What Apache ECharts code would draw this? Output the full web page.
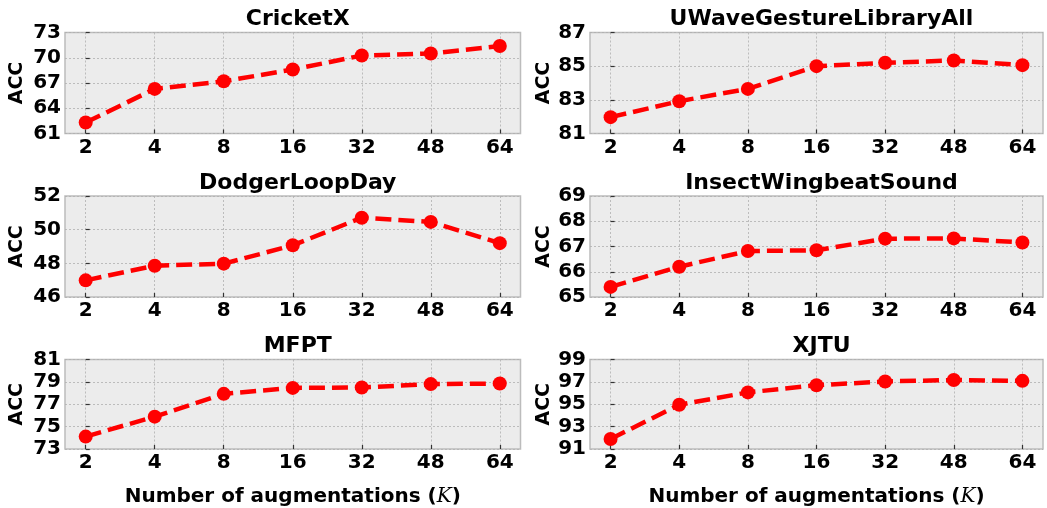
<!DOCTYPE html>
<html><head><meta charset="utf-8">
<script src="https://cdn.jsdelivr.net/npm/echarts@6/dist/echarts.min.js"></script>
<style>html,body{margin:0;padding:0;background:#fff}#c{width:1047px;height:508px}</style>
</head><body><div id="c"></div>
<script>
const categories = ['2','4','8','16','32','48','64'];
const titles = ['CricketX','UWaveGestureLibraryAll','DodgerLoopDay','InsectWingbeatSound','MFPT','XJTU'];
const cricketX = [62.3, 66.3, 67.2, 68.6, 70.27, 70.5, 71.4];
const uwave = [81.97, 82.92, 83.65, 85.0, 85.2, 85.34, 85.06];
const dodger = [46.99, 47.86, 47.98, 49.07, 50.71, 50.46, 49.2];
const insect = [65.4, 66.2, 66.82, 66.85, 67.31, 67.32, 67.16];
const mfpt = [74.11, 75.89, 77.93, 78.46, 78.5, 78.8, 78.85];
const xjtu = [91.9, 94.95, 96.06, 96.7, 97.04, 97.17, 97.09];
const yMins = [61, 81, 46, 65, 73, 91];
const yMaxs = [73, 87, 52, 69, 81, 99];
const yIntervals = [3, 2, 2, 1, 2, 2];
const seriesData = [cricketX, uwave, dodger, insect, mfpt, xjtu];

const font = 'DejaVu Sans';
const colLeft = [65, 590], colWidth = [455.5, 453];
const rowTop = [32.5, 196, 359.5], rowH = 101;

const grids = [], xAxes = [], yAxes = [], series = [], titleArr = [];
const idx = categories.map((c, i) => i);
const tickStyle = {show: true, inside: true, length: 4, lineStyle: {color: '#333', width: 1.2}};
for (let i = 0; i < 6; i++) {
  const r = Math.floor(i / 2), c = i % 2;
  grids.push({left: colLeft[c], top: rowTop[r], width: colWidth[c], height: rowH,
    show: true, backgroundColor: '#ececec', borderColor: '#bcbcbc', borderWidth: 1.5});
  titleArr.push({text: titles[i], left: colLeft[c] + colWidth[c] / 2, top: rowTop[r] - 29,
    textAlign: 'center',
    textStyle: {fontFamily: font, fontWeight: 'bold', fontSize: 22, color: '#000'}});
  const xa = {gridIndex: i, type: 'value', min: -0.3, max: 6.3,
    axisLine: {show: false}, axisTick: Object.assign({customValues: idx}, tickStyle),
    splitLine: {show: true, customValues: idx, lineStyle: {color: '#b0b0b0', type: [2, 2], width: 0.8}},
    axisLabel: {customValues: idx, formatter: v => categories[Math.round(v)], margin: 4,
      fontFamily: font, fontWeight: 'bold', fontSize: 20, color: '#000'}};
  if (r === 2) {
    xa.name = '{n|Number of augmentations (}{k|K}{n|)}';
    xa.nameLocation = 'middle';
    xa.nameGap = 38;
    xa.nameTextStyle = {rich: {
      n: {fontFamily: font, fontWeight: 'bold', fontSize: 20, color: '#000'},
      k: {fontFamily: 'DejaVu Serif', fontStyle: 'italic', fontSize: 20, color: '#000'}}};
  }
  xAxes.push(xa);
  const ya = {gridIndex: i, type: 'value', min: yMins[i], max: yMaxs[i], interval: yIntervals[i],
    axisLine: {show: false}, axisTick: tickStyle,
    splitLine: {show: true, lineStyle: {color: '#b0b0b0', type: [2, 2], width: 0.8}},
    axisLabel: {margin: 4, fontFamily: font, fontWeight: 'bold', fontSize: 20, color: '#000'},
    name: 'ACC', nameLocation: 'middle', nameGap: c === 0 ? 38 : 36, nameRotate: 90,
    nameTextStyle: {fontFamily: font, fontWeight: 'bold', fontSize: 19, color: '#000'}};
  yAxes.push(ya);
  series.push({type: 'line', xAxisIndex: i, yAxisIndex: i,
    data: seriesData[i].map((v, j) => [idx[j], v]),
    symbol: 'circle', symbolSize: 14, itemStyle: {color: '#ff0000'},
    lineStyle: {color: '#ff0000', width: 4.5, type: [16, 7]}, animation: false, z: 5});
}
const chart = echarts.init(document.getElementById('c'), null, {renderer: 'canvas'});
chart.setOption({animation: false, title: titleArr, grid: grids, xAxis: xAxes, yAxis: yAxes, series: series});
</script></body></html>
